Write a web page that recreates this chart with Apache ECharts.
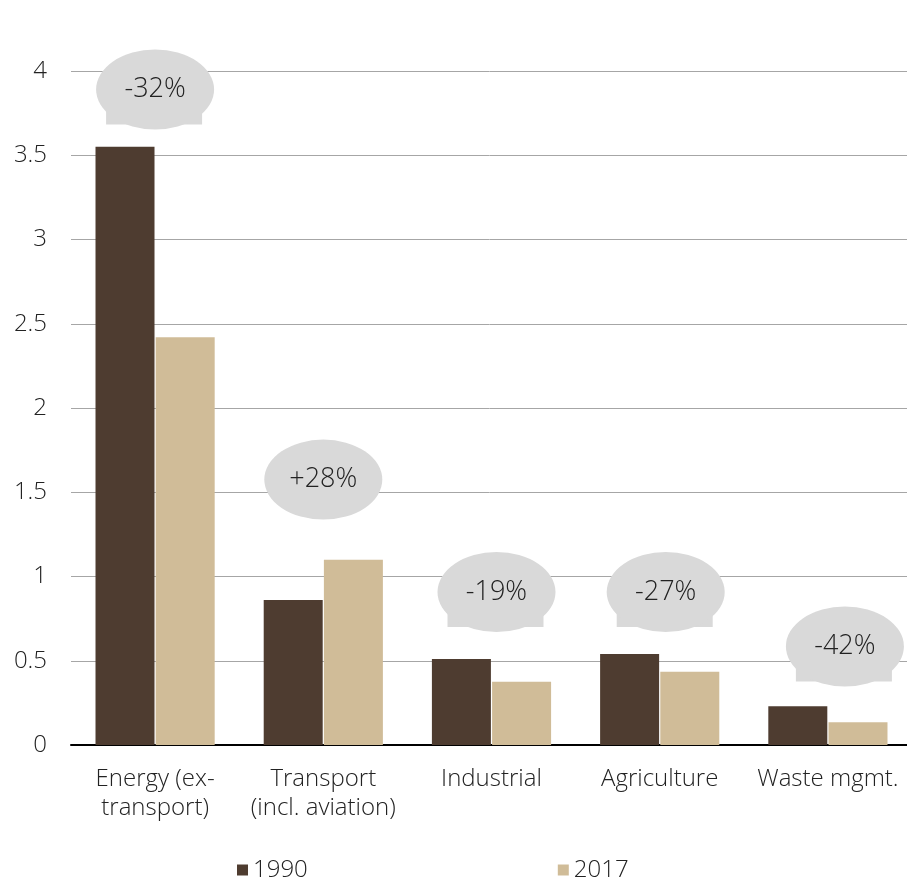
<!DOCTYPE html>
<html>
<head>
<meta charset="utf-8">
<script src="https://cdn.jsdelivr.net/npm/echarts@6/dist/echarts.min.js"></script>
<style>
html,body{margin:0;padding:0;background:#fff;}
#c{width:907px;height:883px;}
</style>
</head>
<body>
<div id="c"></div>
<script>
var categories = ['Energy (ex-\ntransport)', 'Transport\n(incl. aviation)', 'Industrial', 'Agriculture', 'Waste mgmt.'];
var values1990 = [3.55, 0.86, 0.51, 0.54, 0.23];
var values2017 = [2.42, 1.10, 0.375, 0.435, 0.135];
var changeLabels = ['-32%', '+28%', '-19%', '-27%', '-42%'];
var bubbleLevels = [3.89, 1.575, 0.908, 0.908, 0.585];
var bubbleHasTab = [true, false, true, true, true];
var bubbleShiftX = [0, 0, 5, 6, 17];
var yTicks = ['0', '0.5', '1', '1.5', '2', '2.5', '3', '3.5', '4'];

var FONT = 'Open Sans';
var W = 300;
var FS = 24;
var bubbleColor = '#d9d9d9';

var ellipseData = categories.map(function (c, i) {
  return {
    value: [i, bubbleLevels[i]],
    symbolOffset: [bubbleShiftX[i], 0],
    label: {
      show: true, position: 'inside', formatter: changeLabels[i],
      fontFamily: FONT, fontWeight: W, fontSize: 27, color: '#222'
    }
  };
});
var tabData = [];
categories.forEach(function (c, i) {
  if (bubbleHasTab[i]) {
    tabData.push({ value: [i, bubbleLevels[i]], symbolOffset: [bubbleShiftX[i] - 1, 28] });
  }
});

var chart = echarts.init(document.getElementById('c'), null, { renderer: 'canvas' });
chart.setOption({
  animation: false,
  textStyle: { fontFamily: FONT, fontWeight: W },
  grid: { left: 71, width: 841, top: 71, height: 674, containLabel: false, outerBoundsMode: 'none' },
  legend: {
    top: 853,
    left: 232,
    itemWidth: 11,
    itemHeight: 11,
    itemGap: 250,
    icon: 'rect',
    textStyle: { fontFamily: FONT, fontWeight: W, fontSize: FS, color: '#222' },
    data: ['1990', '2017']
  },
  xAxis: {
    type: 'category',
    data: categories,
    axisLine: { lineStyle: { color: '#000', width: 2 } },
    axisTick: { show: false },
    axisLabel: { fontFamily: FONT, fontWeight: W, fontSize: FS, color: '#222', lineHeight: 29, margin: 20, interval: 0 }
  },
  yAxis: {
    type: 'value',
    min: 0,
    max: 4,
    interval: 0.5,
    axisLine: { show: false },
    axisTick: { show: false },
    splitLine: { lineStyle: { color: '#a6a6a6', width: 1 } },
    axisLabel: {
      fontFamily: FONT, fontWeight: W, fontSize: FS, color: '#222', margin: 24,
      formatter: function (v) { return yTicks[Math.round(v / 0.5)]; }
    }
  },
  series: [
    {
      name: '1990', type: 'bar', data: values1990,
      itemStyle: { color: '#4e3c30' },
      barWidth: 59, barGap: '2%'
    },
    {
      name: '2017', type: 'bar', data: values2017,
      itemStyle: { color: '#d0bc98' },
      barWidth: 59, barGap: '2%'
    },
    {
      name: 'tab', type: 'scatter', data: tabData,
      symbol: 'rect', symbolSize: [96, 14],
      itemStyle: { color: bubbleColor, opacity: 1 },
      silent: true, z: 5
    },
    {
      name: 'bubble', type: 'scatter', data: ellipseData,
      symbol: 'circle', symbolSize: [118, 80],
      itemStyle: { color: bubbleColor, opacity: 1 },
      silent: true, z: 6
    }
  ]
});
</script>
</body>
</html>
